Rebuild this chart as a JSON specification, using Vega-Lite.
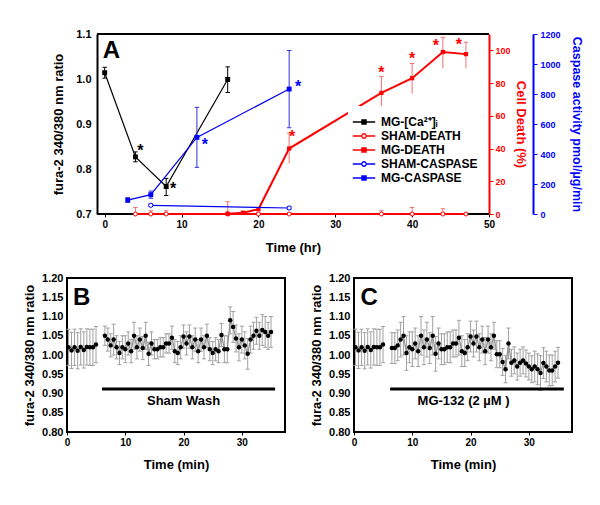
{
"$schema":"https://vega.github.io/schema/vega-lite/v6.json",
"padding":{"left":22,"top":28,"right":12,"bottom":0},
"spacing":17,
"datasets":{
"ca":[
{"t":0,"v":1.014,"lo":1.002,"hi":1.026,"series":"MG-[Ca²⁺]ᵢ"},
{"t":4,"v":0.827,"lo":0.816,"hi":0.838,"series":"MG-[Ca²⁺]ᵢ"},
{"t":8,"v":0.761,"lo":0.741,"hi":0.779,"series":"MG-[Ca²⁺]ᵢ"},
{"t":16,"v":0.999,"lo":0.97,"hi":1.027,"series":"MG-[Ca²⁺]ᵢ"}],
"death":[
{"t":4,"v":0,"lo":0,"hi":4,"series":"SHAM-DEATH"},
{"t":6,"v":0,"lo":0,"hi":2,"series":"SHAM-DEATH"},
{"t":8,"v":0,"lo":0,"hi":2,"series":"SHAM-DEATH"},
{"t":16,"v":0,"lo":0,"hi":7.5,"series":"SHAM-DEATH"},
{"t":20,"v":0,"lo":0,"hi":0.8,"series":"SHAM-DEATH"},
{"t":24,"v":0,"lo":0,"hi":0.8,"series":"SHAM-DEATH"},
{"t":36,"v":0,"lo":0,"hi":2,"series":"SHAM-DEATH"},
{"t":40,"v":0,"lo":0,"hi":4,"series":"SHAM-DEATH"},
{"t":44,"v":0,"lo":0,"hi":3.2,"series":"SHAM-DEATH"},
{"t":47,"v":0,"lo":0,"hi":0.5,"series":"SHAM-DEATH"},
{"t":16,"v":0.2,"lo":0,"hi":0.8,"series":"MG-DEATH"},
{"t":18,"v":0.8,"lo":0.3,"hi":1.3,"series":"MG-DEATH"},
{"t":20,"v":2.9,"lo":2,"hi":4,"series":"MG-DEATH"},
{"t":24,"v":40,"lo":31,"hi":49.5,"series":"MG-DEATH"},
{"t":36,"v":74,"lo":65,"hi":84,"series":"MG-DEATH"},
{"t":40,"v":83,"lo":73.6,"hi":92,"series":"MG-DEATH"},
{"t":44,"v":99,"lo":89,"hi":108,"series":"MG-DEATH"},
{"t":47,"v":97.7,"lo":89,"hi":105,"series":"MG-DEATH"}],
"casp":[
{"t":6,"v":58,"lo":50,"hi":66,"series":"SHAM-CASPASE"},
{"t":24,"v":40,"lo":30,"hi":50,"series":"SHAM-CASPASE"},
{"t":3,"v":93,"lo":78,"hi":108,"series":"MG-CASPASE"},
{"t":6,"v":129,"lo":105,"hi":153,"series":"MG-CASPASE"},
{"t":12,"v":511,"lo":311,"hi":711,"series":"MG-CASPASE"},
{"t":24,"v":833,"lo":575,"hi":1090,"series":"MG-CASPASE"}],
"B":[
{"t":0.25,"v":1.02,"lo":0.973,"hi":1.067,"seg":"a"},
{"t":0.78,"v":1.012,"lo":0.965,"hi":1.059,"seg":"a"},
{"t":1.3,"v":1.02,"lo":0.973,"hi":1.067,"seg":"a"},
{"t":1.83,"v":1.011,"lo":0.964,"hi":1.058,"seg":"a"},
{"t":2.35,"v":1.021,"lo":0.974,"hi":1.068,"seg":"a"},
{"t":2.88,"v":1.013,"lo":0.966,"hi":1.06,"seg":"a"},
{"t":3.4,"v":1.021,"lo":0.974,"hi":1.068,"seg":"a"},
{"t":3.93,"v":1.02,"lo":0.973,"hi":1.067,"seg":"a"},
{"t":4.45,"v":1.02,"lo":0.973,"hi":1.067,"seg":"a"},
{"t":4.98,"v":1.027,"lo":0.98,"hi":1.074,"seg":"a"},
{"t":6.5,"v":1.05,"lo":1.025,"hi":1.075,"seg":"b"},
{"t":7,"v":1.04,"lo":1.01,"hi":1.07,"seg":"b"},
{"t":7.5,"v":1.025,"lo":0.995,"hi":1.055,"seg":"b"},
{"t":8,"v":1.04,"lo":1.0,"hi":1.08,"seg":"b"},
{"t":8.5,"v":1.02,"lo":0.99,"hi":1.05,"seg":"b"},
{"t":9,"v":1.005,"lo":0.975,"hi":1.035,"seg":"b"},
{"t":9.5,"v":1.02,"lo":0.99,"hi":1.05,"seg":"b"},
{"t":10,"v":1.015,"lo":0.98,"hi":1.05,"seg":"b"},
{"t":10.5,"v":1.03,"lo":1.0,"hi":1.06,"seg":"b"},
{"t":11,"v":1.01,"lo":0.98,"hi":1.04,"seg":"b"},
{"t":11.5,"v":1.05,"lo":1.015,"hi":1.085,"seg":"b"},
{"t":12,"v":1.02,"lo":0.99,"hi":1.05,"seg":"b"},
{"t":12.5,"v":1.04,"lo":1.01,"hi":1.07,"seg":"b"},
{"t":13,"v":1.018,"lo":0.988,"hi":1.048,"seg":"b"},
{"t":13.5,"v":1.05,"lo":1.015,"hi":1.085,"seg":"b"},
{"t":14,"v":1.003,"lo":0.973,"hi":1.033,"seg":"b"},
{"t":14.5,"v":1.03,"lo":1.0,"hi":1.06,"seg":"b"},
{"t":15,"v":1.015,"lo":0.99,"hi":1.04,"seg":"b"},
{"t":15.5,"v":1.015,"lo":0.99,"hi":1.04,"seg":"b"},
{"t":16,"v":1.02,"lo":0.995,"hi":1.045,"seg":"b"},
{"t":16.5,"v":1.02,"lo":0.995,"hi":1.045,"seg":"b"},
{"t":17,"v":1.03,"lo":1.005,"hi":1.055,"seg":"b"},
{"t":17.5,"v":1.03,"lo":1.005,"hi":1.055,"seg":"b"},
{"t":18,"v":1.045,"lo":1.015,"hi":1.075,"seg":"b"},
{"t":18.5,"v":1.01,"lo":0.98,"hi":1.04,"seg":"b"},
{"t":19,"v":1.005,"lo":0.975,"hi":1.035,"seg":"b"},
{"t":19.5,"v":1.02,"lo":0.99,"hi":1.05,"seg":"b"},
{"t":20,"v":1.048,"lo":1.018,"hi":1.078,"seg":"b"},
{"t":20.5,"v":1.03,"lo":1.0,"hi":1.06,"seg":"b"},
{"t":21,"v":1.048,"lo":1.018,"hi":1.078,"seg":"b"},
{"t":21.5,"v":1.02,"lo":0.99,"hi":1.05,"seg":"b"},
{"t":22,"v":1.04,"lo":1.01,"hi":1.07,"seg":"b"},
{"t":22.5,"v":1.01,"lo":0.98,"hi":1.04,"seg":"b"},
{"t":23,"v":1.04,"lo":1.01,"hi":1.07,"seg":"b"},
{"t":23.5,"v":1.02,"lo":0.99,"hi":1.05,"seg":"b"},
{"t":24,"v":1.05,"lo":1.02,"hi":1.08,"seg":"b"},
{"t":24.5,"v":1.015,"lo":0.985,"hi":1.045,"seg":"b"},
{"t":25,"v":1.005,"lo":0.975,"hi":1.035,"seg":"b"},
{"t":25.5,"v":1.015,"lo":0.985,"hi":1.045,"seg":"b"},
{"t":26,"v":1.01,"lo":0.98,"hi":1.04,"seg":"b"},
{"t":26.5,"v":1.052,"lo":1.022,"hi":1.082,"seg":"b"},
{"t":27,"v":1.015,"lo":0.98,"hi":1.05,"seg":"b"},
{"t":27.5,"v":1.015,"lo":0.98,"hi":1.05,"seg":"b"},
{"t":28,"v":1.09,"lo":1.055,"hi":1.125,"seg":"b"},
{"t":28.5,"v":1.073,"lo":1.033,"hi":1.113,"seg":"b"},
{"t":29,"v":1.043,"lo":1.008,"hi":1.078,"seg":"b"},
{"t":29.5,"v":1.02,"lo":0.985,"hi":1.055,"seg":"b"},
{"t":30,"v":1.04,"lo":1.005,"hi":1.075,"seg":"b"},
{"t":30.5,"v":1.025,"lo":0.99,"hi":1.06,"seg":"b"},
{"t":31,"v":1.003,"lo":0.963,"hi":1.043,"seg":"b"},
{"t":31.5,"v":1.04,"lo":1.005,"hi":1.075,"seg":"b"},
{"t":32,"v":1.05,"lo":1.015,"hi":1.085,"seg":"b"},
{"t":32.5,"v":1.063,"lo":1.028,"hi":1.098,"seg":"b"},
{"t":33,"v":1.05,"lo":1.015,"hi":1.085,"seg":"b"},
{"t":33.5,"v":1.065,"lo":1.025,"hi":1.105,"seg":"b"},
{"t":34,"v":1.06,"lo":1.02,"hi":1.1,"seg":"b"},
{"t":34.5,"v":1.05,"lo":1.015,"hi":1.085,"seg":"b"},
{"t":35,"v":1.06,"lo":1.02,"hi":1.1,"seg":"b"}],
"C":[
{"t":0.25,"v":1.02,"lo":0.973,"hi":1.067,"seg":"a"},
{"t":0.78,"v":1.012,"lo":0.965,"hi":1.059,"seg":"a"},
{"t":1.3,"v":1.02,"lo":0.973,"hi":1.067,"seg":"a"},
{"t":1.83,"v":1.011,"lo":0.964,"hi":1.058,"seg":"a"},
{"t":2.35,"v":1.021,"lo":0.974,"hi":1.068,"seg":"a"},
{"t":2.88,"v":1.013,"lo":0.966,"hi":1.06,"seg":"a"},
{"t":3.4,"v":1.021,"lo":0.974,"hi":1.068,"seg":"a"},
{"t":3.93,"v":1.02,"lo":0.973,"hi":1.067,"seg":"a"},
{"t":4.45,"v":1.02,"lo":0.973,"hi":1.067,"seg":"a"},
{"t":4.98,"v":1.027,"lo":0.98,"hi":1.074,"seg":"a"},
{"t":6.5,"v":1.018,"lo":0.978,"hi":1.058,"seg":"b"},
{"t":7,"v":1.018,"lo":0.978,"hi":1.058,"seg":"b"},
{"t":7.5,"v":1.025,"lo":0.985,"hi":1.065,"seg":"b"},
{"t":8,"v":1.04,"lo":0.995,"hi":1.085,"seg":"b"},
{"t":8.5,"v":1.05,"lo":1.0,"hi":1.1,"seg":"b"},
{"t":9,"v":1.005,"lo":0.96,"hi":1.05,"seg":"b"},
{"t":9.5,"v":1.02,"lo":0.98,"hi":1.06,"seg":"b"},
{"t":10,"v":1.015,"lo":0.97,"hi":1.06,"seg":"b"},
{"t":10.5,"v":1.03,"lo":0.99,"hi":1.07,"seg":"b"},
{"t":11,"v":1.01,"lo":0.97,"hi":1.05,"seg":"b"},
{"t":11.5,"v":1.05,"lo":1.0,"hi":1.1,"seg":"b"},
{"t":12,"v":1.02,"lo":0.975,"hi":1.065,"seg":"b"},
{"t":12.5,"v":1.04,"lo":0.995,"hi":1.085,"seg":"b"},
{"t":13,"v":1.018,"lo":0.978,"hi":1.058,"seg":"b"},
{"t":13.5,"v":1.05,"lo":1.0,"hi":1.1,"seg":"b"},
{"t":14,"v":1.003,"lo":0.958,"hi":1.048,"seg":"b"},
{"t":14.5,"v":1.03,"lo":0.99,"hi":1.07,"seg":"b"},
{"t":15,"v":1.015,"lo":0.975,"hi":1.055,"seg":"b"},
{"t":15.5,"v":1.015,"lo":0.975,"hi":1.055,"seg":"b"},
{"t":16,"v":1.02,"lo":0.98,"hi":1.06,"seg":"b"},
{"t":16.5,"v":1.02,"lo":0.98,"hi":1.06,"seg":"b"},
{"t":17,"v":1.03,"lo":0.995,"hi":1.065,"seg":"b"},
{"t":17.5,"v":1.03,"lo":0.995,"hi":1.065,"seg":"b"},
{"t":18,"v":1.045,"lo":1.0,"hi":1.09,"seg":"b"},
{"t":18.5,"v":1.01,"lo":0.97,"hi":1.05,"seg":"b"},
{"t":19,"v":1.005,"lo":0.97,"hi":1.04,"seg":"b"},
{"t":19.5,"v":1.02,"lo":0.985,"hi":1.055,"seg":"b"},
{"t":20,"v":1.048,"lo":1.008,"hi":1.088,"seg":"b"},
{"t":20.5,"v":1.03,"lo":0.995,"hi":1.065,"seg":"b"},
{"t":21,"v":1.048,"lo":1.008,"hi":1.088,"seg":"b"},
{"t":21.5,"v":1.02,"lo":0.985,"hi":1.055,"seg":"b"},
{"t":22,"v":1.04,"lo":1.005,"hi":1.075,"seg":"b"},
{"t":22.5,"v":1.01,"lo":0.975,"hi":1.045,"seg":"b"},
{"t":23,"v":1.04,"lo":1.005,"hi":1.075,"seg":"b"},
{"t":23.5,"v":1.02,"lo":0.985,"hi":1.055,"seg":"b"},
{"t":24,"v":1.05,"lo":1.015,"hi":1.085,"seg":"b"},
{"t":24.5,"v":1.002,"lo":0.967,"hi":1.037,"seg":"b"},
{"t":25,"v":1.002,"lo":0.967,"hi":1.037,"seg":"b"},
{"t":25.5,"v":0.982,"lo":0.947,"hi":1.017,"seg":"b"},
{"t":26,"v":0.963,"lo":0.928,"hi":0.998,"seg":"b"},
{"t":26.5,"v":1.03,"lo":0.99,"hi":1.07,"seg":"b"},
{"t":27,"v":0.98,"lo":0.945,"hi":1.015,"seg":"b"},
{"t":27.5,"v":0.986,"lo":0.951,"hi":1.021,"seg":"b"},
{"t":28,"v":0.97,"lo":0.935,"hi":1.005,"seg":"b"},
{"t":28.5,"v":0.98,"lo":0.945,"hi":1.015,"seg":"b"},
{"t":29,"v":0.986,"lo":0.951,"hi":1.021,"seg":"b"},
{"t":29.5,"v":0.978,"lo":0.943,"hi":1.013,"seg":"b"},
{"t":30,"v":0.97,"lo":0.935,"hi":1.005,"seg":"b"},
{"t":30.5,"v":0.963,"lo":0.928,"hi":0.998,"seg":"b"},
{"t":31,"v":0.97,"lo":0.93,"hi":1.01,"seg":"b"},
{"t":31.5,"v":0.963,"lo":0.923,"hi":1.003,"seg":"b"},
{"t":32,"v":0.953,"lo":0.908,"hi":0.998,"seg":"b"},
{"t":32.5,"v":0.979,"lo":0.939,"hi":1.019,"seg":"b"},
{"t":33,"v":0.97,"lo":0.93,"hi":1.01,"seg":"b"},
{"t":33.5,"v":0.96,"lo":0.92,"hi":1.0,"seg":"b"},
{"t":34,"v":0.96,"lo":0.92,"hi":1.0,"seg":"b"},
{"t":34.5,"v":0.97,"lo":0.93,"hi":1.01,"seg":"b"},
{"t":35,"v":0.98,"lo":0.94,"hi":1.02,"seg":"b"}]
},
"vconcat":[
{
"width":422,"height":180,
"view":{"stroke":null},
"resolve":{"scale":{"y":"independent"}},
"layer":[
{
"data":{"name":"ca"},
"layer":[
{"mark":{"type":"line","color":"black","strokeWidth":1.2},
 "encoding":{
  "x":{"field":"t","type":"quantitative","scale":{"domain":[-4.903,50],"nice":false,"zero":false},
       "axis":{"values":[0,10,20,30,40,50],"tickCount":20,"domain":false,"tickSize":3,"labelFlush":false,"labelOverlap":false,"labelFontSize":10,"labelPadding":2,"title":"Time (hr)","titleX":226,"titlePadding":12,"titleFontSize":13}},
  "y":{"field":"v","type":"quantitative","scale":{"domain":[0.7,1.1],"nice":false,"zero":false},
       "axis":{"orient":"left","offset":-30,"values":[0.7,0.8,0.9,1.0,1.1],"tickCount":20,"format":".1f","domain":true,"domainColor":"black","domainWidth":2,"ticks":false,"labelOverlap":false,"labelPadding":6,"labelFontSize":11,"title":"fura-2 340/380 nm ratio","titleFontSize":13,"titlePadding":10}}}},
{"data":{"values":[{}]},"mark":{"type":"rule","color":"black","strokeWidth":2},
 "encoding":{"x":{"datum":-1},"x2":{"datum":50},"y":{"datum":1.1}}},
{"data":{"values":[{}]},"mark":{"type":"rule","color":"black","strokeWidth":2},
 "encoding":{"x":{"datum":-1},"x2":{"datum":50},"y":{"datum":0.7}}},
{"mark":{"type":"rule","color":"black","strokeWidth":1},
 "encoding":{"x":{"field":"t","type":"quantitative"},"y":{"field":"lo","type":"quantitative"},"y2":{"field":"hi"}}},
{"mark":{"type":"point","shape":"M-1,0H1","size":20,"strokeWidth":1,"color":"black","opacity":1},
 "encoding":{"x":{"field":"t","type":"quantitative"},"y":{"field":"lo","type":"quantitative"}}},
{"mark":{"type":"point","shape":"M-1,0H1","size":20,"strokeWidth":1,"color":"black","opacity":1},
 "encoding":{"x":{"field":"t","type":"quantitative"},"y":{"field":"hi","type":"quantitative"}}},
{"mark":{"type":"point","shape":"square","filled":true,"size":24,"color":"black","opacity":1},
 "encoding":{"x":{"field":"t","type":"quantitative"},"y":{"field":"v","type":"quantitative"}}},
{"transform":[{"filter":"false"}],
 "mark":{"type":"point","strokeWidth":1.3,"opacity":1},
 "encoding":{"x":{"field":"t","type":"quantitative"},"y":{"field":"v","type":"quantitative"},
  "color":{"field":"series","type":"nominal","scale":{"domain":["MG-[Ca²⁺]ᵢ","SHAM-DEATH","MG-DEATH","SHAM-CASPASE","MG-CASPASE"],"range":["#000000","#ff0000","#ff0000","#0000ff","#0000ff"]},
    "legend":{"orient":"none","legendX":281,"legendY":72,"title":null,"symbolSize":196,"symbolStrokeWidth":1.3,"symbolOpacity":1,"labelFontSize":12,"labelFontWeight":"bold","labelFont":"Liberation Sans","labelColor":"black","labelOffset":9,"rowPadding":0,"padding":8,"fillColor":"white"}},
  "fill":{"field":"series","type":"nominal","scale":{"domain":["MG-[Ca²⁺]ᵢ","SHAM-DEATH","MG-DEATH","SHAM-CASPASE","MG-CASPASE"],"range":["#000000","#ffffff","#ff0000","#ffffff","#0000ff"]}},
  "shape":{"field":"series","type":"nominal","scale":{"domain":["MG-[Ca²⁺]ᵢ","SHAM-DEATH","MG-DEATH","SHAM-CASPASE","MG-CASPASE"],"range":["M-1.6,0H1.6M-0.3,-0.3H0.3V0.3H-0.3Z","M-1.6,0H-0.32M0.32,0H1.6M0.32,0A0.32,0.32,0,1,1,-0.32,0A0.32,0.32,0,1,1,0.32,0","M-1.6,0H1.6M-0.3,-0.3H0.3V0.3H-0.3Z","M-1.6,0H-0.32M0.32,0H1.6M0.32,0A0.32,0.32,0,1,1,-0.32,0A0.32,0.32,0,1,1,0.32,0","M-1.6,0H1.6M-0.3,-0.3H0.3V0.3H-0.3Z"]}}}},
{"transform":[{"filter":"datum.t == 4"}],"mark":{"type":"text","text":"*","fontSize":16,"fontWeight":"bold","color":"black","baseline":"alphabetic","dx":5,"dy":-1},
 "encoding":{"x":{"field":"t","type":"quantitative"},"y":{"field":"v","type":"quantitative"}}},
{"transform":[{"filter":"datum.t == 8"}],"mark":{"type":"text","text":"*","fontSize":16,"fontWeight":"bold","color":"black","baseline":"alphabetic","dx":7,"dy":7},
 "encoding":{"x":{"field":"t","type":"quantitative"},"y":{"field":"v","type":"quantitative"}}},
{"data":{"values":[{}]},"mark":{"type":"text","text":"A","fontSize":24,"fontWeight":"bold","color":"black","baseline":"alphabetic","align":"center"},
 "encoding":{"x":{"datum":0.87},"y":{"datum":1.046}}}
]},
{
"data":{"name":"death"},
"layer":[
{"mark":{"type":"line","color":"#ff0000","strokeWidth":2},
 "encoding":{"x":{"field":"t","type":"quantitative"},
  "y":{"field":"v","type":"quantitative","scale":{"domain":[0,110],"nice":false},
   "axis":{"orient":"right","values":[0,20,40,60,80,100],"tickCount":20,"labelOverlap":false,"domain":true,"domainColor":"#ff0000","domainWidth":2,"ticks":true,"tickColor":"#ff0000","tickSize":4,"labelColor":"#ff0000","labelFontSize":9,"labelPadding":2,"title":"Cell Death (%)","titleColor":"#ff0000","titleFontSize":13,"titlePadding":3}},
  "detail":{"field":"series","type":"nominal"}}},
{"mark":{"type":"rule","color":"#f07070","strokeWidth":1},
 "encoding":{"x":{"field":"t","type":"quantitative"},"y":{"field":"lo","type":"quantitative"},"y2":{"field":"hi"}}},
{"mark":{"type":"point","shape":"M-1,0H1","size":20,"strokeWidth":1,"color":"#f07070","opacity":1},
 "encoding":{"x":{"field":"t","type":"quantitative"},"y":{"field":"hi","type":"quantitative"}}},
{"transform":[{"filter":"datum.series == 'SHAM-DEATH'"}],
 "mark":{"type":"point","shape":"circle","size":16,"strokeWidth":1,"color":"#ff0000","fill":"white","filled":false,"opacity":1},
 "encoding":{"x":{"field":"t","type":"quantitative"},"y":{"field":"v","type":"quantitative"}}},
{"transform":[{"filter":"datum.series == 'MG-DEATH'"}],
 "mark":{"type":"point","shape":"square","size":18,"filled":true,"color":"#ff0000","opacity":1},
 "encoding":{"x":{"field":"t","type":"quantitative"},"y":{"field":"v","type":"quantitative"}}},
{"transform":[{"filter":"datum.series == 'MG-DEATH' && datum.t == 24"}],"mark":{"type":"text","text":"*","fontSize":16,"fontWeight":"bold","color":"#ff0000","baseline":"alphabetic","dx":3,"dy":9},
 "encoding":{"x":{"field":"t","type":"quantitative"},"y":{"field":"hi","type":"quantitative"}}},
{"transform":[{"filter":"datum.series == 'MG-DEATH' && (datum.t == 36 || datum.t == 40)"}],"mark":{"type":"text","text":"*","fontSize":16,"fontWeight":"bold","color":"#ff0000","baseline":"alphabetic","dx":0,"dy":1},
 "encoding":{"x":{"field":"t","type":"quantitative"},"y":{"field":"hi","type":"quantitative"}}},
{"transform":[{"filter":"datum.series == 'MG-DEATH' && datum.t == 44"}],"mark":{"type":"text","text":"*","fontSize":16,"fontWeight":"bold","color":"#ff0000","baseline":"alphabetic","dx":-7,"dy":14},
 "encoding":{"x":{"field":"t","type":"quantitative"},"y":{"field":"hi","type":"quantitative"}}},
{"transform":[{"filter":"datum.series == 'MG-DEATH' && datum.t == 47"}],"mark":{"type":"text","text":"*","fontSize":16,"fontWeight":"bold","color":"#ff0000","baseline":"alphabetic","dx":-7,"dy":8},
 "encoding":{"x":{"field":"t","type":"quantitative"},"y":{"field":"hi","type":"quantitative"}}}
]},
{
"data":{"name":"casp"},
"layer":[
{"mark":{"type":"line","color":"#0000ee","strokeWidth":1.2},
 "encoding":{"x":{"field":"t","type":"quantitative"},
  "y":{"field":"v","type":"quantitative","scale":{"domain":[0,1200],"nice":false},
   "axis":{"orient":"right","offset":44,"values":[0,200,400,600,800,1000,1200],"tickCount":20,"format":"d","labelOverlap":false,"domain":true,"domainColor":"#0000ff","domainWidth":2,"ticks":true,"tickColor":"#0000ff","tickSize":4,"labelColor":"#0000ff","labelFontSize":9,"labelPadding":3,"title":"Caspase activity pmol/µg/min","titleColor":"#0000ff","titleFontSize":12.5,"titlePadding":9}},
  "detail":{"field":"series","type":"nominal"}}},
{"mark":{"type":"rule","color":"#3030e0","strokeWidth":1},
 "encoding":{"x":{"field":"t","type":"quantitative"},"y":{"field":"lo","type":"quantitative"},"y2":{"field":"hi"}}},
{"mark":{"type":"point","shape":"M-1,0H1","size":20,"strokeWidth":1,"color":"#3030e0","opacity":1},
 "encoding":{"x":{"field":"t","type":"quantitative"},"y":{"field":"lo","type":"quantitative"}}},
{"mark":{"type":"point","shape":"M-1,0H1","size":20,"strokeWidth":1,"color":"#3030e0","opacity":1},
 "encoding":{"x":{"field":"t","type":"quantitative"},"y":{"field":"hi","type":"quantitative"}}},
{"transform":[{"filter":"datum.series == 'SHAM-CASPASE'"}],
 "mark":{"type":"point","shape":"circle","size":18,"strokeWidth":1,"color":"#0000ff","fill":"white","filled":false,"opacity":1},
 "encoding":{"x":{"field":"t","type":"quantitative"},"y":{"field":"v","type":"quantitative"}}},
{"transform":[{"filter":"datum.series == 'MG-CASPASE'"}],
 "mark":{"type":"point","shape":"square","size":24,"filled":true,"color":"#0000ff","opacity":1},
 "encoding":{"x":{"field":"t","type":"quantitative"},"y":{"field":"v","type":"quantitative"}}},
{"transform":[{"filter":"datum.series == 'MG-CASPASE' && datum.t == 12"}],"mark":{"type":"text","text":"*","fontSize":16,"fontWeight":"bold","color":"#0000ff","baseline":"alphabetic","dx":8,"dy":13},
 "encoding":{"x":{"field":"t","type":"quantitative"},"y":{"field":"v","type":"quantitative"}}},
{"transform":[{"filter":"datum.series == 'MG-CASPASE' && datum.t == 24"}],"mark":{"type":"text","text":"*","fontSize":16,"fontWeight":"bold","color":"#0000ff","baseline":"alphabetic","dx":9,"dy":3},
 "encoding":{"x":{"field":"t","type":"quantitative"},"y":{"field":"v","type":"quantitative"}}}
]}
]
},
{
"spacing":23,
"hconcat":[
{
"width":218,"height":154,
"data":{"name":"B"},
"layer":[
{"mark":{"type":"rule","color":"#a0a0a0","strokeWidth":1},
 "encoding":{"x":{"field":"t","type":"quantitative","scale":{"domain":[0,37.4],"nice":false},
   "axis":{"values":[0,10,20,30],"tickCount":20,"domain":false,"tickSize":3,"labelFlush":false,"labelOverlap":false,"labelFontSize":10,"labelPadding":2,"title":"Time (min)","titleFontSize":13,"titlePadding":11}},
  "y":{"field":"lo","type":"quantitative","scale":{"domain":[0.8,1.2],"nice":false,"zero":false},
   "axis":{"values":[0.8,0.85,0.9,0.95,1.0,1.05,1.1,1.15,1.2],"tickCount":20,"format":".2f","labelOverlap":false,"domain":false,"ticks":false,"labelPadding":4,"labelFontSize":11,"title":"fura-2 340/380 nm ratio","titleFontSize":13,"titlePadding":5}},
  "y2":{"field":"hi"}}},
{"mark":{"type":"point","shape":"M-1,0H1","size":16,"strokeWidth":1,"color":"#a0a0a0","opacity":1},
 "encoding":{"x":{"field":"t","type":"quantitative"},"y":{"field":"hi","type":"quantitative"}}},
{"mark":{"type":"point","shape":"M-1,0H1","size":16,"strokeWidth":1,"color":"#a0a0a0","opacity":1},
 "encoding":{"x":{"field":"t","type":"quantitative"},"y":{"field":"lo","type":"quantitative"}}},
{"mark":{"type":"line","color":"#909090","strokeWidth":1.2},
 "encoding":{"x":{"field":"t","type":"quantitative"},"y":{"field":"v","type":"quantitative"},"detail":{"field":"seg","type":"nominal"}}},
{"mark":{"type":"point","filled":true,"shape":"circle","size":20,"color":"black","opacity":1},
 "encoding":{"x":{"field":"t","type":"quantitative"},"y":{"field":"v","type":"quantitative"}}},
{"data":{"values":[{}]},"mark":{"type":"rule","color":"black","strokeWidth":3},
 "encoding":{"x":{"datum":6},"x2":{"datum":35.7},"y":{"datum":0.912}}},
{"data":{"values":[{}]},"mark":{"type":"text","text":"Sham  Wash","fontSize":13,"fontWeight":"bold","color":"black","baseline":"middle","align":"center"},
 "encoding":{"x":{"datum":20},"y":{"datum":0.881}}},
{"data":{"values":[{}]},"mark":{"type":"text","text":"B","fontSize":24,"fontWeight":"bold","color":"black","baseline":"alphabetic","align":"center"},
 "encoding":{"x":{"datum":2.52},"y":{"datum":1.13}}}
]},
{
"width":218,"height":154,
"data":{"name":"C"},
"layer":[
{"mark":{"type":"rule","color":"#a0a0a0","strokeWidth":1},
 "encoding":{"x":{"field":"t","type":"quantitative","scale":{"domain":[0,37.4],"nice":false},
   "axis":{"values":[0,10,20,30],"tickCount":20,"domain":false,"tickSize":3,"labelFlush":false,"labelOverlap":false,"labelFontSize":10,"labelPadding":2,"title":"Time (min)","titleFontSize":13,"titlePadding":11}},
  "y":{"field":"lo","type":"quantitative","scale":{"domain":[0.8,1.2],"nice":false,"zero":false},
   "axis":{"values":[0.8,0.85,0.9,0.95,1.0,1.05,1.1,1.15,1.2],"tickCount":20,"format":".2f","labelOverlap":false,"domain":false,"ticks":false,"labelPadding":4,"labelFontSize":11,"title":"fura-2 340/380 nm ratio","titleFontSize":13,"titlePadding":5}},
  "y2":{"field":"hi"}}},
{"mark":{"type":"point","shape":"M-1,0H1","size":16,"strokeWidth":1,"color":"#a0a0a0","opacity":1},
 "encoding":{"x":{"field":"t","type":"quantitative"},"y":{"field":"hi","type":"quantitative"}}},
{"mark":{"type":"point","shape":"M-1,0H1","size":16,"strokeWidth":1,"color":"#a0a0a0","opacity":1},
 "encoding":{"x":{"field":"t","type":"quantitative"},"y":{"field":"lo","type":"quantitative"}}},
{"mark":{"type":"line","color":"#909090","strokeWidth":1.2},
 "encoding":{"x":{"field":"t","type":"quantitative"},"y":{"field":"v","type":"quantitative"},"detail":{"field":"seg","type":"nominal"}}},
{"mark":{"type":"point","filled":true,"shape":"circle","size":20,"color":"black","opacity":1},
 "encoding":{"x":{"field":"t","type":"quantitative"},"y":{"field":"v","type":"quantitative"}}},
{"data":{"values":[{}]},"mark":{"type":"rule","color":"black","strokeWidth":3},
 "encoding":{"x":{"datum":6.2},"x2":{"datum":36},"y":{"datum":0.912}}},
{"data":{"values":[{}]},"mark":{"type":"text","text":"MG-132 (2 µM )","fontSize":13,"fontWeight":"bold","color":"black","baseline":"middle","align":"center"},
 "encoding":{"x":{"datum":18.8},"y":{"datum":0.881}}},
{"data":{"values":[{}]},"mark":{"type":"text","text":"C","fontSize":24,"fontWeight":"bold","color":"black","baseline":"alphabetic","align":"center"},
 "encoding":{"x":{"datum":2.62},"y":{"datum":1.13}}}
]}
]}
],
"config":{
 "font":"Liberation Sans",
 "view":{"stroke":"black","strokeWidth":2},
 "axis":{"labelFont":"Liberation Sans","titleFont":"Liberation Sans","labelFontWeight":"bold","titleFontWeight":"bold","labelColor":"black","titleColor":"black","grid":false,"tickColor":"black","domainColor":"black"},
 "text":{"font":"Liberation Sans","fontWeight":"bold"},
 "legend":{"labelFont":"Liberation Sans"}
}
}
